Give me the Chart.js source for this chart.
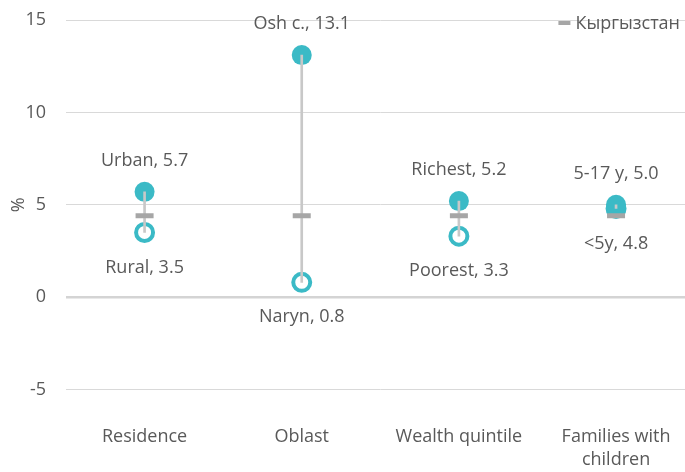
<!DOCTYPE html>
<html>
<head>
<meta charset="utf-8">
<script src="https://cdn.jsdelivr.net/npm/chart.js@4.4.1/dist/chart.umd.min.js"></script>
<style>
    html, body { margin: 0; padding: 0; background: #ffffff; overflow: hidden; }
    #wrap { width: 706px; height: 472px; }
</style>
</head>
<body>
<div id="wrap"><canvas id="chart"></canvas></div>
<script>
// chart data
const categories = [['Residence'], ['Oblast'], ['Wealth quintile'], ['Families with', 'children']];
const highNames = ['Urban', 'Osh c.', 'Richest', '5-17 y'];
const highValues = [5.7, 13.1, 5.2, 5.0];
const lowNames = ['Rural', 'Naryn', 'Poorest', '<5y'];
const lowValues = [3.5, 0.8, 3.3, 4.8];
const nationalLabel = 'Кыргызстан';
const nationalValues = [4.4, 4.4, 4.4, 4.4];
const yTicks = [-5, 0, 5, 10, 15];

const TEAL = '#3bbac6';
const GREY_LINE = '#c8c8c8';
const GREY_DASH = '#a6a6a6';
const TEXT = '#595959';
const FONT = '"Open Sans", sans-serif';
const FONT_SIZE = 18;

// labels next to the points + the legend in the top right corner
const pointLabels = {
    id: 'pointLabels',
    afterDatasetsDraw(chart) {
        const ctx = chart.ctx;
        ctx.save();
        ctx.font = FONT_SIZE + 'px ' + FONT;
        ctx.fillStyle = TEXT;
        ctx.textAlign = 'center';
        ctx.textBaseline = 'middle';
        chart.getDatasetMeta(1).data.forEach((pt, i) => {
            ctx.fillText(highNames[i] + ', ' + highValues[i].toFixed(1), pt.x, pt.y - 31);
        });
        chart.getDatasetMeta(0).data.forEach((pt, i) => {
            ctx.fillText(lowNames[i] + ', ' + lowValues[i].toFixed(1), pt.x, pt.y + 35);
        });

        // legend, top right inside the plot (window is 685 wide)
        const area = chart.chartArea;
        const tw = ctx.measureText(nationalLabel).width;
        const tx = 680 - tw;
        const ly = area.top + 4;
        ctx.textAlign = 'left';
        ctx.fillText(nationalLabel, tx, ly);
        ctx.strokeStyle = GREY_DASH;
        ctx.lineWidth = 4;
        ctx.beginPath();
        ctx.moveTo(tx - 17, ly - 1);
        ctx.lineTo(tx - 5, ly - 1);
        ctx.stroke();
        ctx.restore();
    }
};

new Chart(document.getElementById('chart'), {
    type: 'line',
    data: {
        labels: categories,
        datasets: [{
            label: 'low',
            data: lowValues,
            showLine: false,
            pointRadius: 8.5,
            pointHoverRadius: 8.5,
            pointBorderWidth: 4,
            pointBorderColor: TEAL,
            pointBackgroundColor: '#ffffff',
            order: 4
        }, {
            label: 'high',
            data: highValues,
            showLine: false,
            pointRadius: 10,
            pointHoverRadius: 10,
            pointBorderWidth: 0,
            pointBackgroundColor: TEAL,
            order: 3
        }, {
            type: 'bar',
            label: 'range',
            data: lowValues.map((v, i) => [v, highValues[i]]),
            backgroundColor: GREY_LINE,
            barThickness: 2,
            order: 2
        }, {
            label: nationalLabel,
            data: nationalValues,
            showLine: false,
            pointStyle: 'line',
            pointRadius: 9,
            pointHoverRadius: 9,
            pointBorderWidth: 5,
            pointBorderColor: GREY_DASH,
            borderColor: GREY_DASH,
            order: 1
        }]
    },
    options: {
        responsive: true,
        maintainAspectRatio: false,
        animation: false,
        layout: { autoPadding: false, padding: { top: 20, right: 0, bottom: 0.5, left: 0 } },
        plugins: {
            legend: { display: false },
            tooltip: { enabled: false }
        },
        scales: {
            x: {
                offset: true,
                afterFit: (scale) => { scale.height = 82; },
                grid: { display: false, drawTicks: false },
                border: { display: false },
                ticks: {
                    padding: 35.5,
                    color: TEXT,
                    font: { family: FONT, size: FONT_SIZE, lineHeight: 1.3 },
                    maxRotation: 0
                }
            },
            y: {
                min: -5,
                max: 15,
                afterBuildTicks: (scale) => { scale.ticks = yTicks.map(v => ({ value: v })); },
                afterFit: (scale) => {
                    scale.width = 66;
                    scale.paddingTop = 0;
                    scale.paddingBottom = 0;
                },
                grid: {
                    drawTicks: false,
                    color: (c) => c.tick && c.tick.value === 0 ? '#d4d4d4' : '#d9d9d9',
                    lineWidth: (c) => c.tick && c.tick.value === 0 ? 2.5 : 1
                },
                border: { display: false },
                ticks: {
                    padding: 20,
                    color: TEXT,
                    font: { family: FONT, size: FONT_SIZE }
                },
                title: {
                    display: true,
                    text: '%',
                    color: TEXT,
                    padding: { top: 8, bottom: 0 },
                    font: { family: FONT, size: FONT_SIZE }
                }
            }
        }
    },
    plugins: [pointLabels]
});
</script>
</body>
</html>
